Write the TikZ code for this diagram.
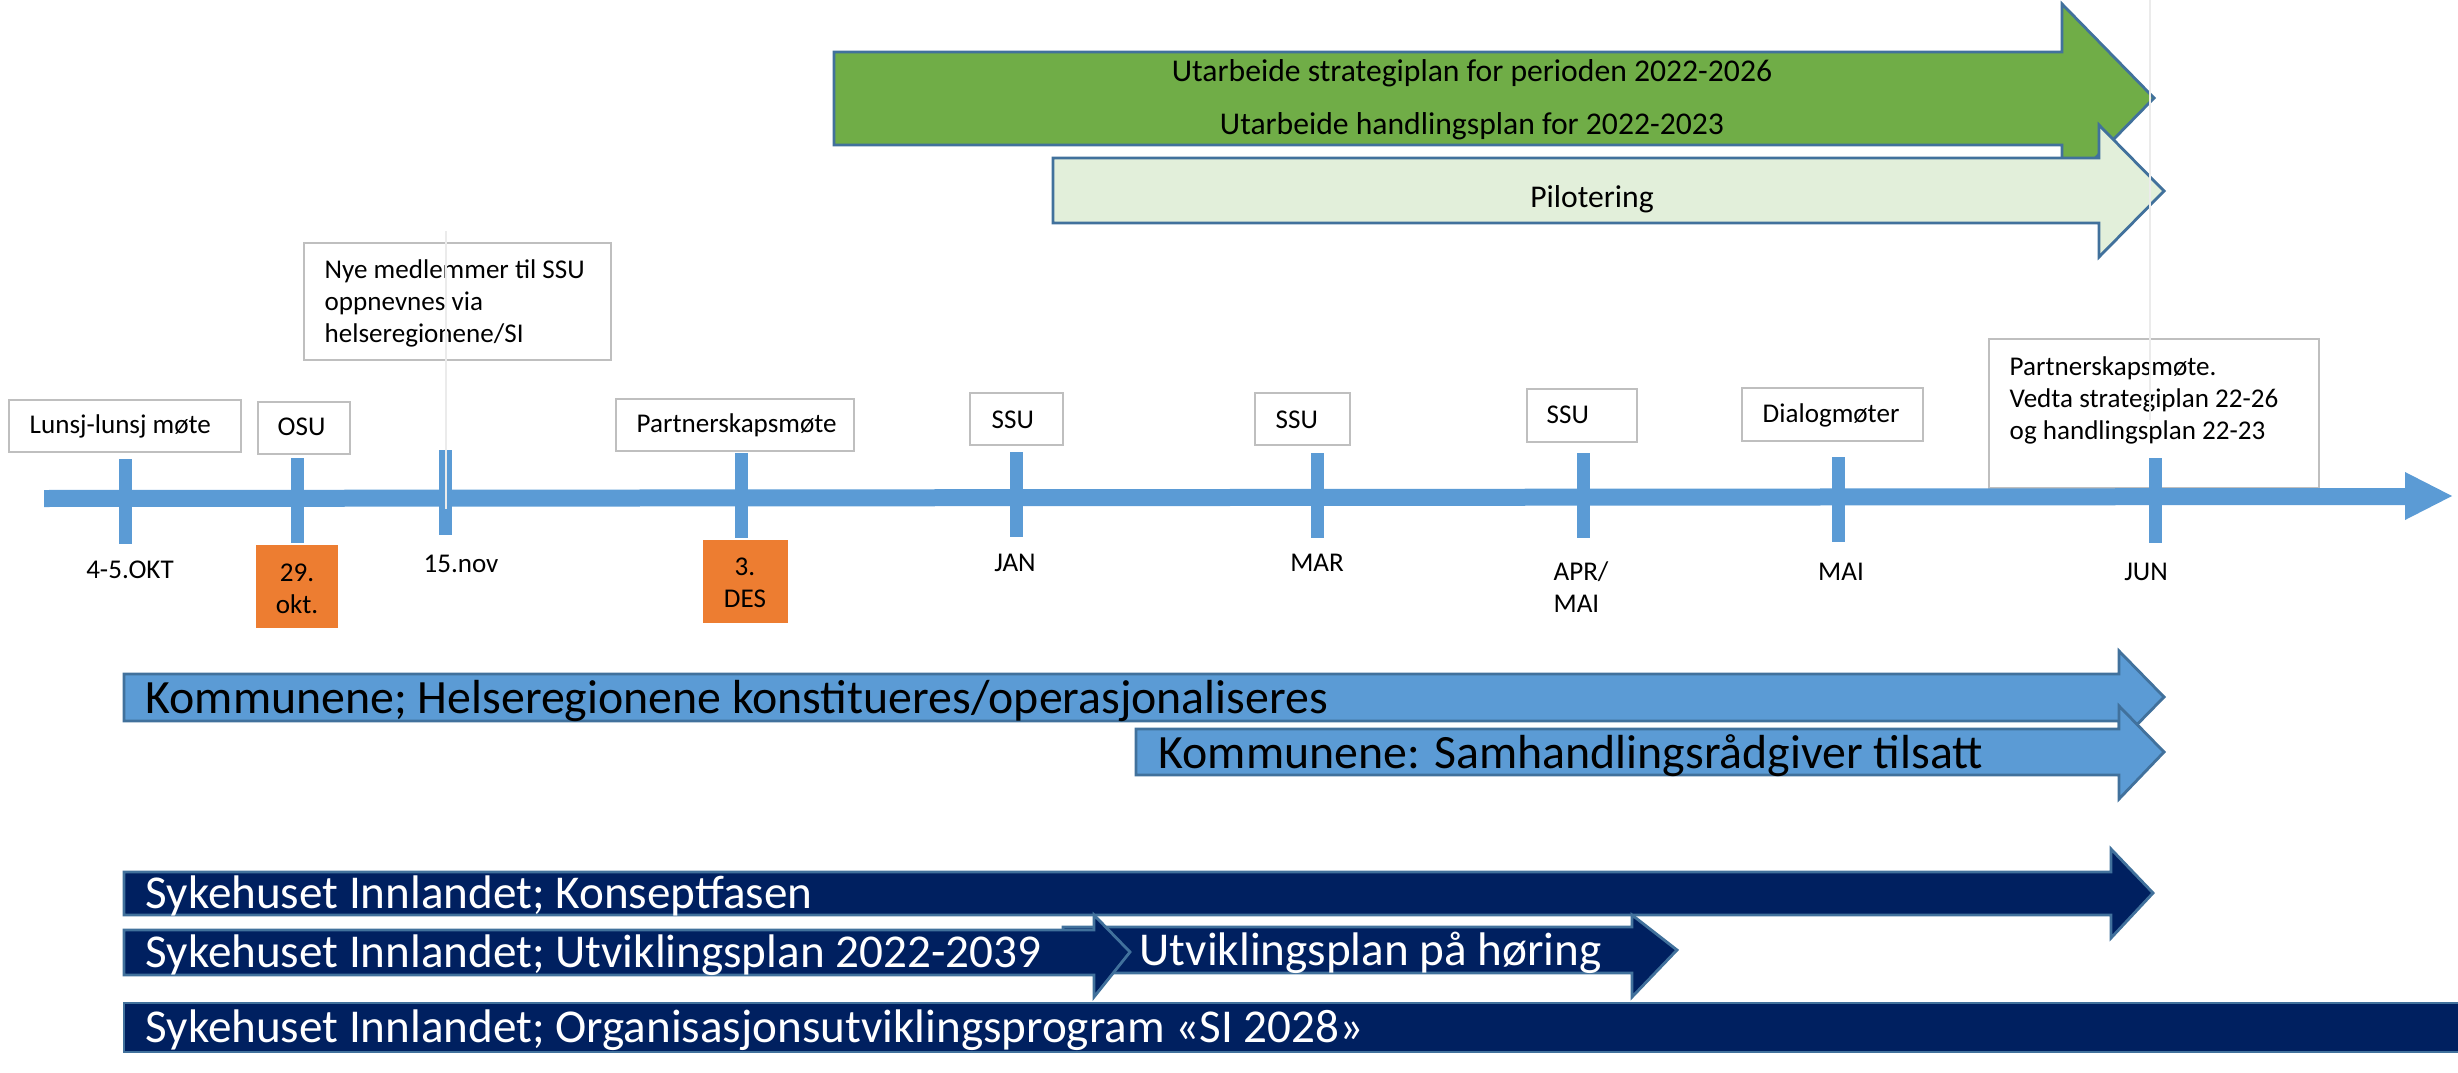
\documentclass[tikz,border=0pt]{standalone}
\usepackage{fontspec}
\setmainfont{Carlito}
\definecolor{tlblue}{HTML}{5B9BD5}
\definecolor{bordblue}{HTML}{41719C}
\definecolor{orng}{HTML}{ED7D31}
\definecolor{grn}{HTML}{70AD47}
\definecolor{ltgrn}{HTML}{E2EFDA}
\definecolor{navy}{HTML}{002060}
\definecolor{boxgray}{HTML}{BFBFBF}
\begin{document}
\begin{tikzpicture}[x=0.01cm,y=-0.01cm,
  lbl/.style={font=\fontsize{7.7}{9.1}\selectfont, inner sep=0pt},
  grtxt/.style={font=\fontsize{9}{11}\selectfont, inner sep=0pt},
  evbox/.style={draw=boxgray, line width=0.6pt, fill=white},
  tick/.style={fill=tlblue},
  arr/.style={draw=bordblue, line width=0.8pt},
  bigtxt/.style={font=\fontsize{13.6}{16}\selectfont, inner sep=0pt},
  sitxt/.style={font=\fontsize{13.4}{16}\selectfont, inner sep=0pt, text=white},
  faint/.style={draw=black!8, line width=0.4pt}]
\useasboundingbox (0,0) rectangle (2458,1073);

% ---- top arrows ----
\draw[arr, fill=grn] (834,52) -- (2062,52) -- (2062,4) -- (2154,98) -- (2062,192) -- (2062,145) -- (834,145) -- cycle;
\draw[arr, fill=ltgrn] (1053,158) -- (2099,158) -- (2099,125) -- (2164,191) -- (2099,257) -- (2099,223) -- (1053,223) -- cycle;
\node[grtxt, anchor=base] (g1) at (1472,82) {Utarbeide strategiplan for perioden 2022-2026};
\node[grtxt, anchor=base] (g2) at (1472,135) {Utarbeide handlingsplan for 2022-2023};
\node[grtxt, anchor=base] (pil) at (1592,208) {Pilotering};

% ---- event boxes ----
\draw[evbox] (9,400) rectangle (241,452);
\node[lbl, anchor=west] (lunsj) at (29,426) {Lunsj-lunsj møte};
\draw[evbox] (258,402) rectangle (350,454);
\node[lbl, anchor=west] (osu) at (277,427) {OSU};
\draw[evbox] (304,243) rectangle (611,360);
\node[lbl, anchor=west, align=left] (nye) at (324,303) {Nye medlemmer til SSU\\oppnevnes via\\helseregionene/SI};
\draw[evbox] (616,399) rectangle (854,451);
\node[lbl, anchor=west] (pm1) at (636,425) {Partnerskapsmøte};
\draw[evbox] (970,393) rectangle (1063,445);
\node[lbl, anchor=west] (ssu1) at (991,420) {SSU};
\draw[evbox] (1255,393) rectangle (1350,445);
\node[lbl, anchor=west] (ssu2) at (1275,420) {SSU};
\draw[evbox] (1527,389) rectangle (1637,442);
\node[lbl, anchor=west] (ssu3) at (1546,415) {SSU};
\draw[evbox] (1742,388) rectangle (1923,441);
\node[lbl, anchor=west] (dial) at (1762,415) {Dialogmøter};
\draw[evbox] (1989,339) rectangle (2319,488);
\node[lbl, anchor=west, align=left] (pm2) at (2009,400) {Partnerskapsmøte.\\Vedta strategiplan 22-26\\og handlingsplan 22-23};

% ---- timeline ----
\fill[tlblue] (44,490) -- (2405,488) -- (2405,472) -- (2452,496) -- (2405,520) -- (2405,505) -- (44,507) -- cycle;
\fill[tick] (119,459) rectangle (132,544);
\fill[tick] (291,458) rectangle (304,543);
\fill[tick] (439,450) rectangle (452,535);
\fill[tick] (735,453) rectangle (748,538);
\fill[tick] (1010,452) rectangle (1023,537);
\fill[tick] (1311,453) rectangle (1324,538);
\fill[tick] (1577,453) rectangle (1590,538);
\fill[tick] (1832,457) rectangle (1845,542);
\fill[tick] (2149,458) rectangle (2162,543);

% faint guide lines
\coordinate (f1a) at (446,231); \coordinate (f1b) at (446,509);
\draw[faint] (f1a) -- (f1b);
\coordinate (f2a) at (2150,0); \coordinate (f2b) at (2150,420);
\draw[faint] (f2a) -- (f2b);

% ---- labels below ----
\node[lbl] (okt) at (130,570) {4-5.OKT};
\fill[orng] (256,545) rectangle (338,628);
\node[lbl, align=center] (d29) at (297,589) {29.\\okt.};
\node[lbl] (nov) at (461,564) {15.nov};
\fill[orng] (703,540) rectangle (788,623);
\node[lbl, align=center] (d3) at (745,583) {3.\\DES};
\node[lbl] (jan) at (1015,563) {JAN};
\node[lbl] (mar) at (1317,563) {MAR};
\node[lbl, align=left] (apr) at (1581,587) {APR/\\MAI};
\node[lbl] (mai) at (1841,572) {MAI};
\node[lbl] (jun) at (2146,572) {JUN};

% ---- bottom arrows ----
\draw[arr, fill=tlblue] (124,674) -- (2119,674) -- (2119,651) -- (2164,697) -- (2119,743) -- (2119,721) -- (124,721) -- cycle;
\draw[arr, fill=tlblue] (1136,729) -- (2119,729) -- (2119,706) -- (2164,752) -- (2119,799) -- (2119,775) -- (1136,775) -- cycle;
\node[bigtxt, anchor=base west] (k1) at (145,713) {Kommunene; Helseregionene konstitueres/operasjonaliseres};
\node[bigtxt, anchor=base west] (k2) at (1158,768) {Kommunene: Samhandlingsrådgiver tilsatt};

\draw[arr, fill=navy] (124,872) -- (2111,872) -- (2111,849) -- (2153,893) -- (2111,938) -- (2111,915) -- (124,915) -- cycle;
\draw[arr, fill=navy] (1063,927) -- (1632,927) -- (1632,915) -- (1677,950) -- (1632,997) -- (1632,973) -- (1063,973) -- cycle;
\draw[arr, fill=navy] (124,930) -- (1094,930) -- (1094,915) -- (1130,952) -- (1094,997) -- (1094,975) -- (124,975) -- cycle;
\draw[arr, fill=navy] (124,1003) -- (2470,1003) -- (2470,1052) -- (124,1052) -- cycle;
\node[sitxt, anchor=base west] (s1) at (145,908) {Sykehuset Innlandet; Konseptfasen};
\node[sitxt, anchor=base west] (s2) at (145,967) {Sykehuset Innlandet; Utviklingsplan 2022-2039};
\node[sitxt, anchor=base west] (s3) at (1139,965) {Utviklingsplan på høring};
\node[sitxt, anchor=base west] (s4) at (145,1042) {Sykehuset Innlandet; Organisasjonsutviklingsprogram «SI 2028»};
\end{tikzpicture}
\end{document}
